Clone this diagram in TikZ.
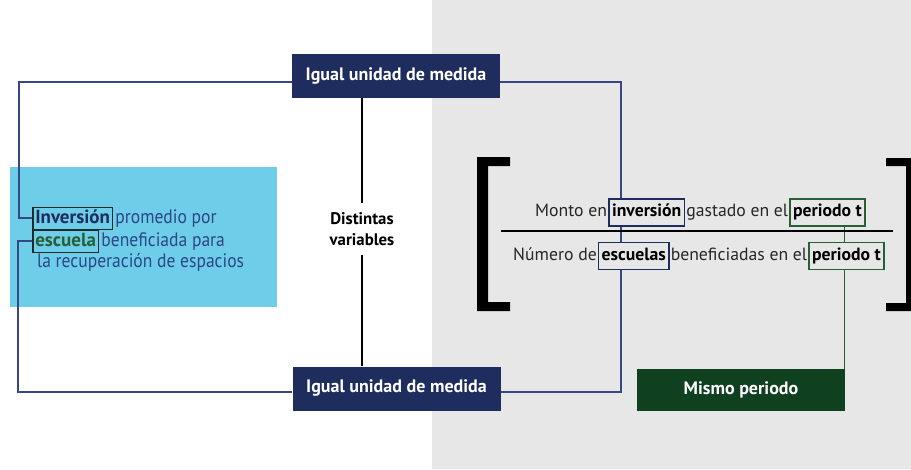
\documentclass[tikz,border=0pt]{standalone}
\usepackage{fontspec}
\setmainfont{PT Sans}
\newfontfamily\narrowf[FakeStretch=0.9]{PT Sans}
\usetikzlibrary{calc}
\definecolor{navy}{RGB}{31,45,94}
\definecolor{skyb}{RGB}{110,205,232}
\definecolor{bggray}{RGB}{231,231,231}
\definecolor{dgreen}{RGB}{15,64,32}
\definecolor{lgreen}{RGB}{40,95,55}
\definecolor{blinec}{RGB}{55,70,135}
\definecolor{ltext}{RGB}{45,70,135}
\definecolor{lboxc}{RGB}{35,42,42}
\pgfdeclarelayer{back}
\pgfdeclarelayer{lines}
\pgfsetlayers{back,lines,main}
\begin{document}
\begin{tikzpicture}[x=1pt,y=-1pt,
  navybox/.style={fill=navy,text=white,font=\fontsize{18}{21}\selectfont\bfseries,minimum width=208pt,minimum height=44pt,inner sep=0pt},
  greenbox/.style={fill=dgreen,text=white,font=\fontsize{18}{21}\selectfont\bfseries,minimum width=208pt,minimum height=42pt,inner sep=0pt},
  distinct/.style={font=\fontsize{16.8}{21.5}\selectfont\bfseries,align=center,inner xsep=2pt,inner ysep=9pt},
  ltxt/.style={text=ltext,font=\narrowf\fontsize{19.5}{22}\selectfont,inner xsep=2pt,inner ysep=0pt},
  lbox/.style={draw=lboxc,line width=1.5pt,font=\fontsize{19}{22}\selectfont,inner xsep=2.5pt,inner ysep=1.5pt,text height=14.25pt,text depth=4.75pt},
  rtxt/.style={text=black!85,font=\fontsize{17.7}{20}\selectfont,inner xsep=1pt,inner ysep=0pt},
  rbox/.style={fill=bggray,line width=1.5pt,font=\fontsize{17.7}{20}\selectfont\bfseries,inner xsep=3pt,inner ysep=5pt,text height=12.75pt,text depth=4.25pt},
  bline/.style={draw=blinec,line width=1.6pt},
  kline/.style={draw=black,line width=1.6pt},
  gline/.style={draw=lgreen,line width=1.6pt}]
\useasboundingbox (0,0) rectangle (911,469);
\begin{pgfonlayer}{back}
  \fill[white] (0,0) rectangle (432,469);
  \fill[bggray] (432,0) rectangle (911,469);
  \fill[skyb] (10,167) rectangle (277,307);
\end{pgfonlayer}

% main boxes
\node[navybox] (T) at (396,76) {Igual unidad de medida};
\node[navybox] (B) at (396.5,388.5) {Igual unidad de medida};
\node[greenbox] (G) at (741,390) {Mismo periodo};
\node[distinct] (D) at (362,229) {Distintas\\variables};

% left text
\node[lbox,anchor=base west,text=navy] (Linv) at (32,223) {\bfseries Inversión};
\node[ltxt,anchor=base west] (l1) at (Linv.base east) {promedio por};
\node[lbox,anchor=base west,text=lgreen] (Lesc) at (32,246) {\bfseries escuela};
\node[ltxt,anchor=base west] (l2) at (Lesc.base east) {beneficiada para};
\node[ltxt,anchor=base west] (l3) at (35,267.5) {la recuperación de espacios};

% right fraction
\node[rtxt,anchor=base west] (m1) at (534,216.7) {Monto en};
\node[rbox,draw=navy,anchor=base west] (Rinv) at (m1.base east) {inversión};
\node[rtxt,anchor=base west] (m2) at (Rinv.base east) {gastado en el};
\node[rbox,draw=lgreen,anchor=base west] (P1) at (m2.base east) {periodo t};
\node[rtxt,anchor=base west] (n1) at (512,260) {Número de};
\node[rbox,draw=navy,anchor=base west] (Resc) at (n1.base east) {escuelas};
\node[rtxt,anchor=base west] (n2) at (Resc.base east) {beneficiadas en el};
\node[rbox,draw=lgreen,anchor=base west] (P2) at (n2.base east) {periodo t};

\draw[black,line width=1.3pt] (501,231) -- (893,231);

% brackets
\fill[black] (477,157) -- (510,157) -- (510,166) -- (488,166) -- (488,302) -- (510,302) -- (510,311) -- (477,311) -- cycle;
\fill[black] (886,158) -- (916,158) -- (916,311) -- (886,311) -- (886,303) -- (906,303) -- (906,166) -- (886,166) -- cycle;

% connectors
\coordinate (lc) at (19,0);
\coordinate (lc2) at (18,0);
\coordinate (rc) at (620.7,300);
\coordinate (gx) at (844.5,0);
\begin{pgfonlayer}{lines}
  \draw[bline] ([yshift=-6pt]T.west) -| (lc |- Linv.west) -- (Linv.west);
  \draw[bline] ([yshift=-3.5pt]B.west) -| (lc2 |- Lesc.west) -- (Lesc.west);
  \draw[bline] ([yshift=-6pt]T.east) -| (rc) |- ([yshift=-3.5pt]B.east);
  \draw[kline] (D.north) -- (D.north |- T.south);
  \draw[kline] (D.south) -- (D.south |- B.north);
  \draw[gline] (gx |- P1.south) -- (gx |- G.north);
\end{pgfonlayer}
\end{tikzpicture}
\end{document}
